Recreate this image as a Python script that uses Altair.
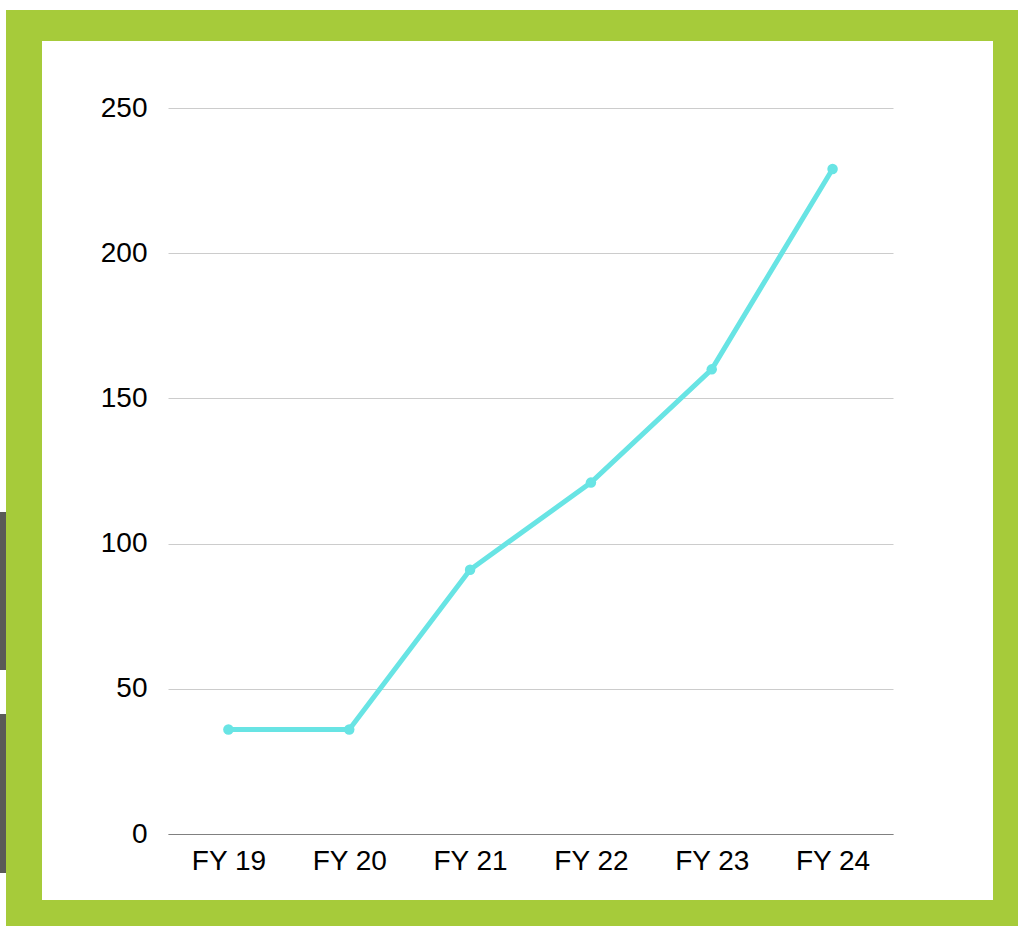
import altair as alt
import pandas as pd

categories = ["FY 19", "FY 20", "FY 21", "FY 22", "FY 23", "FY 24"]
values = [36, 36, 91, 121, 160, 229]
y_ticks = [0, 50, 100, 150, 200, 250]

LINE_COLOR = "#68e4e4"
GREEN = "#a6cb3a"
GREY = "#5a5b57"
FONT = "Liberation Sans"

W, H = 725, 726
LEFT, TOP = 168, 108
CANVAS_W, CANVAS_H = 1018, 926

df = pd.DataFrame({"year": categories, "value": values})

# decorative frame pieces (canvas pixel coordinates)
frame = pd.DataFrame({
    "x0": [6, 6, 6, 993, 0, 0],
    "x1": [1018, 1018, 42, 1018, 6, 6],
    "y0": [10, 900, 10, 10, 512, 714],
    "y1": [41, 926, 926, 926, 670, 873],
    "c": [GREEN, GREEN, GREEN, GREEN, GREY, GREY],
})
frame["px0"] = frame["x0"] - LEFT
frame["px1"] = frame["x1"] - LEFT
frame["py0"] = frame["y0"] - TOP
frame["py1"] = frame["y1"] - TOP

deco = alt.Chart(frame).mark_rect(clip=False).encode(
    x=alt.X("px0:Q", scale=None, axis=None),
    x2="px1:Q",
    y=alt.Y("py0:Q", scale=None, axis=None),
    y2="py1:Q",
    color=alt.Color("c:N", scale=None, legend=None),
)

x_enc = alt.X(
    "year:N",
    sort=categories,
    title=None,
    axis=alt.Axis(
        labelAngle=0,
        labelFontSize=28,
        labelFont=FONT,
        labelColor="#000000",
        labelPadding=13,
        ticks=False,
        domain=True,
        domainColor="#808080",
        domainWidth=1.2,
        grid=False,
    ),
)
y_enc = alt.Y(
    "value:Q",
    title=None,
    scale=alt.Scale(domain=[0, 250], nice=False, zero=True),
    axis=alt.Axis(
        values=y_ticks,
        labelFontSize=28,
        labelFont=FONT,
        labelColor="#000000",
        labelPadding=21,
        ticks=False,
        domain=False,
        grid=True,
        gridColor="#cccccc",
        gridWidth=1,
    ),
)

line = alt.Chart(df).mark_line(color=LINE_COLOR, strokeWidth=5).encode(x=x_enc, y=y_enc)
points = alt.Chart(df).mark_circle(color=LINE_COLOR, size=110, opacity=1).encode(x=x_enc, y=y_enc)

chart = alt.layer(line, points, deco).properties(
    width=W,
    height=H,
    autosize=alt.AutoSizeParams(type="none"),
    padding={"left": LEFT, "top": TOP, "right": CANVAS_W - LEFT - W, "bottom": CANVAS_H - TOP - H},
    background="white",
).configure_view(stroke=None)

chart.save("out.html", embed_options={"renderer": "svg", "actions": False})
